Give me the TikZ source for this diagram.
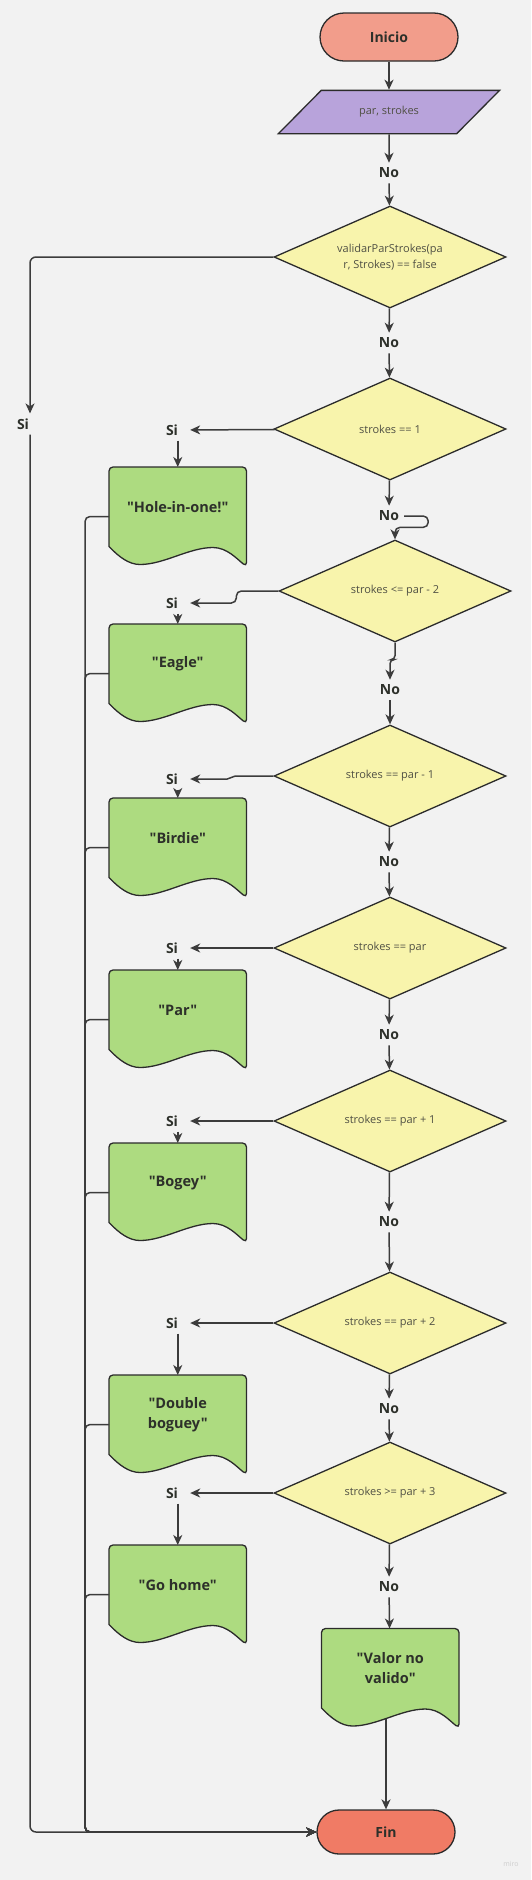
\documentclass[tikz,border=0pt]{standalone}
\usepackage{fontspec}
\setmainfont{Open Sans}[Ligatures=TeXOff]
\usepackage{tikz}
\usetikzlibrary{arrows.meta, shapes.geometric, calc}
\definecolor{bggray}{RGB}{242,242,242}
\definecolor{startred}{RGB}{242,157,139}
\definecolor{endred}{RGB}{240,123,101}
\definecolor{inpurple}{RGB}{184,163,219}
\definecolor{condyellow}{RGB}{248,244,172}
\definecolor{outgreen}{RGB}{173,219,128}
\definecolor{edge}{RGB}{43,43,43}
\definecolor{linegray}{RGB}{60,60,60}
\definecolor{condtext}{RGB}{80,80,68}
\definecolor{darktext}{RGB}{45,48,42}
\definecolor{wmgray}{RGB}{205,205,205}

% document symbol: name, left, top, text
\newcommand{\docnode}[4]{%
  \filldraw[docline, shift={(#2,#3)}]
    (137.5,99.5) .. controls (128,92) and (118,80.5) .. (104,80.5)
    .. controls (80,80.5) and (55,97.5) .. (31,97.5)
    .. controls (20,97.5) and (10,90) .. (0,79.5)
    [rounded corners=4pt] -- (0,0) -- (137.5,0) -- cycle;
  \node[docbox] (#1) at (#2+68.75,#3+49.5) {};
  \node[doctext] (#1-txt) at (#2+68.75,#3+40) {#4};}

\begin{document}
\begin{tikzpicture}[
    x=1pt, y=-1pt,
    >={Stealth[length=10pt, width=9pt, inset=3pt]},
    line/.style={draw=linegray, line width=1.5pt},
    term/.style={draw=edge, line width=1.3pt, minimum width=138pt, font=\bfseries\fontsize{14}{17}\selectfont, text=darktext},
    io/.style={trapezium, trapezium left angle=40, trapezium right angle=140, trapezium stretches=true, draw=edge, line width=1.3pt, fill=inpurple, minimum width=221.5pt, minimum height=43.3pt, font=\fontsize{11}{14}\selectfont, text=condtext},
    cond/.style={diamond, aspect=2.32, draw=edge, line width=1.3pt, fill=condyellow, minimum width=232pt, minimum height=102pt, inner sep=0pt, align=center, font=\fontsize{11}{16}\selectfont, text=condtext},
    docline/.style={draw=edge, line width=1.3pt, fill=outgreen},
    docbox/.style={minimum width=137.5pt, minimum height=99pt, inner sep=0pt, outer sep=0pt},
    doctext/.style={align=center, font=\bfseries\fontsize{14.5}{20}\selectfont, text=darktext},
    nolbl/.style={inner sep=5pt, font=\bfseries\fontsize{14}{17}\selectfont, text=darktext},
    silbl/.style={inner xsep=12pt, inner ysep=5pt, font=\bfseries\fontsize{14}{17}\selectfont, text=darktext},
]
    \useasboundingbox (0,0) rectangle (531,1880);
    \fill[bggray] (0,0) rectangle (531,1880);

    \node[term, fill=startred, minimum height=48pt, rounded corners=24pt] (inicio) at (389,37) {Inicio};
    \node[io] (datos) at (389,112) {par, strokes};
    \node[nolbl] (no0) at (389,173) {No};
    \node[cond] (d1) at (390,257) {validarParStrokes(pa\\r, Strokes) == false};
    \node[silbl] (si0) at (23,424) {Si};
    \node[nolbl] (no1) at (389,343) {No};
    \node[cond] (d2) at (390,429) {strokes == 1};
    \node[silbl] (si1) at (172,430) {Si};
    \node[nolbl] (no2) at (389,516) {No};
    \node[cond] (d3) at (395,591) {strokes <= par - 2};
    \node[silbl] (si2) at (172,603) {Si};
    \node[nolbl] (no3) at (390,690) {No};
    \node[cond] (d4) at (390,776) {strokes == par - 1};
    \node[silbl] (si3) at (172,779) {Si};
    \node[nolbl] (no4) at (389,862) {No};
    \node[cond] (d5) at (390,948) {strokes == par};
    \node[silbl] (si4) at (172,948) {Si};
    \node[nolbl] (no5) at (389,1035) {No};
    \node[cond] (d6) at (390,1121) {strokes == par + 1};
    \node[silbl] (si5) at (172,1121) {Si};
    \node[nolbl] (no6) at (389,1222) {No};
    \node[cond] (d7) at (390,1323) {strokes == par + 2};
    \node[silbl] (si6) at (172,1323) {Si};
    \node[nolbl] (no7) at (389,1409) {No};
    \node[cond] (d8) at (390,1493) {strokes >= par + 3};
    \node[silbl] (si7) at (172,1493) {Si};
    \node[nolbl] (no8) at (389,1587) {No};

    \docnode{hole}{109}{467}{"Hole-in-one!"}
    \docnode{eagle}{109}{624}{"Eagle"}
    \docnode{birdie}{109}{798}{"Birdie"}
    \docnode{pardoc}{109}{970}{"Par"}
    \docnode{bogey}{109}{1143}{"Bogey"}
    \docnode{dbl}{109}{1375}{"Double\\boguey"}
    \docnode{home}{109}{1545}{"Go home"}
    \docnode{valor}{321.5}{1628.5}{"Valor no\\valido"}

    \node[term, fill=endred, minimum height=44pt, rounded corners=22pt] (fin) at (386,1832) {Fin};
    \coordinate (bus) at (85,1832);
    \node[text=wmgray, font=\fontsize{7}{8}\selectfont] (mark) at (511,1864) {miro};

    % main column
    \draw[line, ->] (inicio) -- (datos);
    \draw[line, ->] (datos) -- (no0);
    \draw[line, ->] (no0) -- (d1);
    \draw[line, ->] (d1) -- (no1);
    \draw[line, ->] (no1) -- (d2);
    \draw[line, ->] (d2) -- (no2);
    \draw[line, ->, rounded corners=5pt] (no2.east) -- ++(24,0) |- ([yshift=12pt]d3.north) -- (d3.north);
    \draw[line, ->, rounded corners=4pt] (d3.south) -- ++(0,17) -| (no3.north);
    \draw[line, ->] (no3) -- (d4);
    \draw[line, ->] (d4) -- (no4);
    \draw[line, ->] (no4) -- (d5);
    \draw[line, ->] (d5) -- (no5);
    \draw[line, ->] (no5) -- (d6);
    \draw[line, ->] (d6) -- (no6);
    \draw[line, ->] (no6) -- (d7);
    \draw[line, ->] (d7) -- (no7);
    \draw[line, ->] (no7) -- (d8);
    \draw[line, ->] (d8) -- (no8);
    \draw[line, ->] (no8) -- (valor);
    \draw[line, ->] ($(valor.south -| fin.north)+(0,-9)$) -- (fin.north);

    % yes branches
    \draw[line, ->, rounded corners=6pt] (d1.west) -| ([xshift=7pt]si0.north);
    \draw[line, ->, rounded corners=6pt] ([xshift=7pt]si0.south) |- (fin.west);
    \draw[line, ->] (d2) -- (si1);
    \draw[line, ->, rounded corners=5pt] (d3.west) -- ++(-42,0) |- (si2.east);
    \draw[line, ->] (d4.west) -- ++(-38,0) to[out=180, in=0] ([xshift=37pt]si3.east) -- (si3.east);
    \draw[line, ->] (d5) -- (si4);
    \draw[line, ->] (d6) -- (si5);
    \draw[line, ->] (d7) -- (si6);
    \draw[line, ->] (d8) -- (si7);
    \draw[line, ->] (si1.south -| hole.north) -- (hole.north);
    \draw[line, ->] (si2.south -| eagle.north) -- (eagle.north);
    \draw[line, ->] (si3.south -| birdie.north) -- (birdie.north);
    \draw[line, ->] (si4.south -| pardoc.north) -- (pardoc.north);
    \draw[line, ->] (si5.south -| bogey.north) -- (bogey.north);
    \draw[line, ->] (si6.south -| dbl.north) -- (dbl.north);
    \draw[line, ->] (si7.south -| home.north) -- (home.north);
    \foreach \doc in {hole,eagle,birdie,pardoc,bogey,dbl,home}
        \draw[line, ->, rounded corners=5pt] (\doc.west) -| (bus) -- (fin.west);
\end{tikzpicture}
\end{document}
